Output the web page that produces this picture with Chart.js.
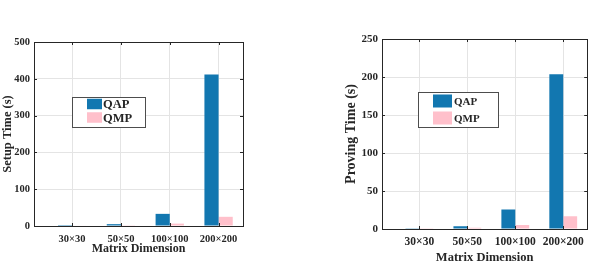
<!DOCTYPE html>
<html>
<head>
<meta charset="utf-8">
<script src="https://cdn.jsdelivr.net/npm/chart.js@4.4.1/dist/chart.umd.min.js"></script>
<style>
  html, body { margin: 0; padding: 0; background: #fff; overflow: hidden; }
  .panel { position: absolute; top: 0; }
</style>
</head>
<body>
<div class="panel" style="left:0"><canvas id="setupChart" width="295" height="262"></canvas></div>
<div class="panel" style="left:295px"><canvas id="provingChart" width="295" height="262"></canvas></div>
<script>
// 数据
const categories = ['30\u00d730', '50\u00d750', '100\u00d7100', '200\u00d7200'];
const seriesNames = ['QAP', 'QMP'];
const setupQAP = [2.5, 5, 33, 412];
const setupQMP = [1.5, 2, 6.5, 25];
const provingQAP = [1, 3.5, 25.5, 203.5];
const provingQMP = [1, 1.5, 5.3, 16.7];
const setupTicks = [0, 100, 200, 300, 400, 500];
const provingTicks = [0, 50, 100, 150, 200, 250];

const BLUE = '#1277b0';
const PINK = '#ffc0cb';
const INK = '#262626';
const GRID = '#e4e4e4';
const SERIF = "'Liberation Serif', 'Times New Roman', serif";

Chart.defaults.font.family = SERIF;
Chart.defaults.font.weight = 'bold';
Chart.defaults.color = INK;

// 坐标框 + 向内的刻度线 (MATLAB 风格)
const framePlugin = {
  id: 'frame',
  afterDatasetsDraw(chart) {
    const { ctx, chartArea: a, scales } = chart;
    ctx.save();
    ctx.strokeStyle = INK;
    ctx.lineWidth = 1;
    ctx.strokeRect(Math.round(a.left) + 0.5, Math.round(a.top) + 0.5,
      Math.round(a.right - a.left), Math.round(a.bottom - a.top));
    const len = 3;
    ctx.beginPath();
    scales.y.ticks.forEach(t => {
      const y = Math.round(scales.y.getPixelForValue(t.value)) + 0.5;
      ctx.moveTo(a.left, y); ctx.lineTo(a.left + len, y);
      ctx.moveTo(a.right, y); ctx.lineTo(a.right - len, y);
    });
    scales.x.ticks.forEach(t => {
      const x = Math.round(scales.x.getPixelForValue(t.value)) + 0.5;
      ctx.moveTo(x, a.bottom); ctx.lineTo(x, a.bottom - len);
      ctx.moveTo(x, a.top); ctx.lineTo(x, a.top + len);
    });
    ctx.stroke();
    ctx.restore();
  }
};

// 图例框 (放在坐标区内部)
const boxLegendPlugin = {
  id: 'boxLegend',
  afterDraw(chart, args, opts) {
    const { ctx } = chart;
    ctx.save();
    ctx.fillStyle = '#fff';
    ctx.fillRect(opts.x, opts.y, opts.w, opts.h);
    ctx.strokeStyle = '#4d4d4d';
    ctx.lineWidth = 1;
    ctx.strokeRect(opts.x + 0.5, opts.y + 0.5, opts.w, opts.h);
    ctx.font = `bold ${opts.fontSize}px ${SERIF}`;
    ctx.textBaseline = 'middle';
    ctx.textAlign = 'left';
    chart.data.datasets.forEach((ds, i) => {
      const cy = opts.rows[i];
      ctx.fillStyle = ds.backgroundColor;
      ctx.fillRect(opts.swatchX, cy - opts.swatchH / 2, opts.swatchW, opts.swatchH);
      ctx.fillStyle = INK;
      ctx.fillText(ds.label, opts.textX, cy + 1);
    });
    ctx.restore();
  }
};

function makeChart(canvasId, qap, qmp, ticks, s) {
  const toPoints = arr => arr.map((v, i) => ({ x: i + 1, y: v }));
  return new Chart(document.getElementById(canvasId), {
    type: 'bar',
    data: {
      datasets: [
        { label: seriesNames[0], data: toPoints(qap), backgroundColor: BLUE },
        { label: seriesNames[1], data: toPoints(qmp), backgroundColor: PINK }
      ]
    },
    options: {
      responsive: false,
      animation: false,
      devicePixelRatio: 1,
      categoryPercentage: 0.58,
      barPercentage: 1,
      layout: { padding: s.padding },
      plugins: {
        legend: { display: false },
        tooltip: { enabled: false },
        boxLegend: s.legend
      },
      scales: {
        x: {
          type: 'linear',
          min: 0.22,
          max: 4.5,
          offset: false,
          grid: { color: GRID, offset: false, drawTicks: false },
          border: { display: false },
          afterFit: sc => { sc.height = s.xHeight; },
          afterBuildTicks: sc => { sc.ticks = categories.map((c, i) => ({ value: i + 1 })); },
          ticks: {
            padding: s.xTickPad,
            maxRotation: 0,
            autoSkip: false,
            font: { size: s.xTickSize },
            callback: v => categories[v - 1]
          },
          title: {
            display: true,
            text: 'Matrix Dimension',
            font: { size: s.xTitleSize },
            padding: { top: 0, bottom: s.xTitlePad }
          }
        },
        y: {
          min: ticks[0],
          max: ticks[ticks.length - 1],
          grid: { color: GRID, drawTicks: false },
          border: { display: false },
          afterFit: sc => { sc.width = s.yWidth; },
          afterBuildTicks: sc => { sc.ticks = ticks.map(v => ({ value: v })); },
          ticks: { padding: 4, font: { size: s.yTickSize } },
          title: {
            display: true,
            text: s.yTitle,
            font: { size: s.yTitleSize },
            padding: { top: 0, bottom: 0 }
          }
        }
      }
    },
    plugins: [framePlugin, boxLegendPlugin]
  });
}

makeChart('setupChart', setupQAP, setupQMP, setupTicks, {
  padding: { left: 0, right: 52, top: 42, bottom: 0 },
  yWidth: 34, xHeight: 36,
  xTickPad: 7, xTickSize: 10.5, yTickSize: 10.5,
  xTitleSize: 12, xTitlePad: 5.8,
  yTitle: 'Setup Time (s)', yTitleSize: 12.5,
  legend: { x: 72, y: 97, w: 73, h: 30, swatchX: 87, swatchW: 15, swatchH: 10.5,
            rows: [104, 117.5], textX: 103, fontSize: 12.5 }
});

makeChart('provingChart', provingQAP, provingQMP, provingTicks, {
  padding: { left: 48, right: 2, top: 39, bottom: 0 },
  yWidth: 39, xHeight: 33,
  xTickPad: 6, xTickSize: 11.5, yTickSize: 11,
  xTitleSize: 12.5, xTitlePad: -2.8,
  yTitle: 'Proving Time (s)', yTitleSize: 14,
  legend: { x: 123, y: 92, w: 80, h: 35, swatchX: 138, swatchW: 19, swatchH: 13,
            rows: [101, 118], textX: 159, fontSize: 11 }
});
</script>
</body>
</html>
